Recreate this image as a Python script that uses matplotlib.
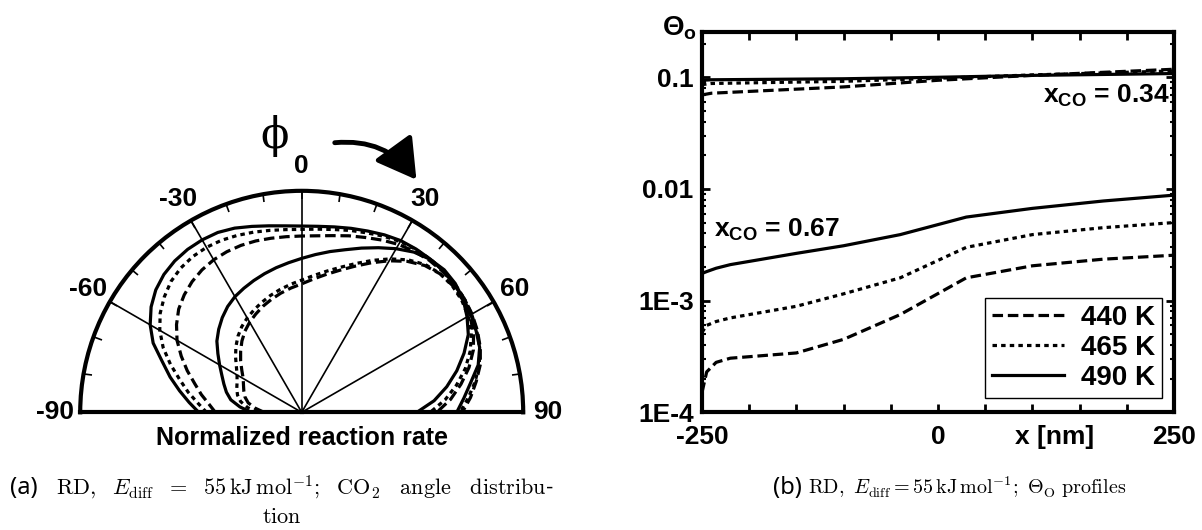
import numpy as np
import matplotlib
matplotlib.use("Agg")
import matplotlib.pyplot as plt
from matplotlib.patches import FancyArrowPatch
from matplotlib.ticker import FixedLocator, NullFormatter

plt.rcParams['font.family'] = ['Liberation Sans', 'DejaVu Sans']
plt.rcParams['font.weight'] = 'bold'
plt.rcParams['mathtext.fontset'] = 'custom'
plt.rcParams['mathtext.rm'] = 'Liberation Sans:bold'
plt.rcParams['mathtext.it'] = 'Liberation Sans:bold'
plt.rcParams['mathtext.bf'] = 'Liberation Sans:bold'

# ---- (a) CO2 angle distribution, phi in degrees (5 deg steps) ----
phi_deg = list(range(-90, 91, 5))
# wide lobes
r_wide_440 = [0.39, 0.42, 0.46, 0.50, 0.55, 0.60, 0.65, 0.69, 0.725, 0.75, 0.77, 0.785,
              0.795, 0.80, 0.802, 0.801, 0.798, 0.796, 0.796, 0.80, 0.81, 0.825, 0.84,
              0.858, 0.875, 0.887, 0.896, 0.90, 0.90, 0.896, 0.888, 0.875, 0.858, 0.835,
              0.80, 0.765, 0.725]
r_wide_465 = [0.43, 0.47, 0.52, 0.57, 0.63, 0.69, 0.74, 0.78, 0.81, 0.835, 0.85, 0.858,
              0.86, 0.857, 0.85, 0.842, 0.834, 0.828, 0.826, 0.83, 0.838, 0.85, 0.862,
              0.877, 0.89, 0.898, 0.903, 0.905, 0.902, 0.896, 0.886, 0.872, 0.855, 0.83,
              0.795, 0.755, 0.715]
r_wide_490 = [0.465, 0.51, 0.56, 0.615, 0.67, 0.74, 0.79, 0.83, 0.86, 0.88, 0.892, 0.898,
              0.899, 0.896, 0.885, 0.869, 0.855, 0.845, 0.841, 0.843, 0.85, 0.86, 0.871,
              0.884, 0.895, 0.90, 0.903, 0.903, 0.899, 0.892, 0.882, 0.869, 0.855, 0.825,
              0.775, 0.735, 0.70]
# tilted lobes
r_tilt_440 = [0.17, 0.21, 0.245, 0.265, 0.278, 0.29, 0.305, 0.33, 0.36, 0.39, 0.42, 0.447,
              0.47, 0.49, 0.51, 0.528, 0.546, 0.563, 0.58, 0.604, 0.632, 0.664, 0.702,
              0.745, 0.79, 0.832, 0.865, 0.884, 0.89, 0.887, 0.876, 0.856, 0.825, 0.782,
              0.73, 0.675, 0.61]
r_tilt_465 = [0.20, 0.245, 0.28, 0.30, 0.312, 0.322, 0.337, 0.36, 0.39, 0.42, 0.448, 0.472,
              0.492, 0.51, 0.528, 0.546, 0.563, 0.58, 0.597, 0.62, 0.647, 0.678, 0.715,
              0.757, 0.80, 0.84, 0.87, 0.885, 0.888, 0.882, 0.868, 0.845, 0.81, 0.765,
              0.71, 0.65, 0.58]
r_tilt_490 = [0.228, 0.28, 0.325, 0.352, 0.374, 0.398, 0.428, 0.462, 0.50, 0.53, 0.558, 0.583,
              0.603, 0.618, 0.633, 0.648, 0.663, 0.678, 0.695, 0.715, 0.737, 0.76, 0.789,
              0.82, 0.853, 0.883, 0.902, 0.91, 0.905, 0.89, 0.862, 0.83, 0.78, 0.725,
              0.665, 0.60, 0.52]
angle_ticks = [-90, -60, -30, 0, 30, 60, 90]

# ---- (b) Theta_O profiles ----
x_hi = [-250, -240, -100, 0, 100, 250]
th_hi_440 = [0.0695, 0.072, 0.082, 0.094, 0.104, 0.118]
th_hi_465 = [0.086, 0.088, 0.092, 0.098, 0.105, 0.114]
th_hi_490 = [0.094, 0.095, 0.097, 0.100, 0.104, 0.108]

x_lo = [-250, -245, -235, -220, -150, -100, -40, 30, 100, 175, 250]
th_lo_440 = [1.5e-4, 2.3e-4, 2.8e-4, 3.05e-4, 3.4e-4, 4.5e-4, 7.5e-4, 1.6e-3, 2.05e-3, 2.35e-3, 2.55e-3]
th_lo_465 = [5.2e-4, 6.0e-4, 6.5e-4, 7.0e-4, 8.9e-4, 1.15e-3, 1.6e-3, 3.0e-3, 3.9e-3, 4.5e-3, 5.0e-3]
th_lo_490 = [1.75e-3, 1.82e-3, 1.95e-3, 2.1e-3, 2.65e-3, 3.1e-3, 3.9e-3, 5.6e-3, 6.7e-3, 7.8e-3, 8.8e-3]
temps = ['440 K', '465 K', '490 K']

dashed = (0, (3.3, 1.5))
dotted = (0, (1.4, 1.3))
styles = [dashed, dotted, '-']

fig = plt.figure(figsize=(12.02, 5.30), dpi=100)

# polar panel
axp = fig.add_axes([0.0667, 0.0131, 0.3686, 0.8358], projection='polar')
axp.set_theta_zero_location('N')
axp.set_theta_direction(-1)
axp.set_thetamin(-90)
axp.set_thetamax(90)
axp.set_rlim(0, 1)
axp.set_yticks([])
axp.set_xticks(np.deg2rad(angle_ticks))
axp.set_xticklabels([str(a) for a in angle_ticks], fontsize=19)
axp.xaxis.set_minor_locator(FixedLocator(np.deg2rad(np.arange(-90, 91, 10))))
axp.tick_params(axis='x', which='both', bottom=False, top=True, direction='in',
                length=6, width=1.2, pad=11)
axp.xaxis.grid(True, color='black', lw=1.2)
for sp in axp.spines.values():
    sp.set_linewidth(3)

th = np.deg2rad(phi_deg)
for r, ls in zip([r_wide_440, r_wide_465, r_wide_490], styles):
    axp.plot(th, r, color='black', lw=2.3, linestyle=ls)
for r, ls in zip([r_tilt_440, r_tilt_465, r_tilt_490], styles):
    axp.plot(th, r, color='black', lw=2.3, linestyle=ls)

fig.text(301.7 / 1202, 1 - 426 / 530, 'Normalized reaction rate', fontsize=18,
         ha='center', va='top')
fig.text(275 / 1202, 1 - 136 / 530, '\u03d5', fontsize=30, ha='center',
         va='center', family='DejaVu Serif', weight='normal')
fig.add_artist(FancyArrowPatch(
    (332 / 1202, 1 - 143 / 530), (418 / 1202, 1 - 182 / 530),
    transform=fig.transFigure, connectionstyle='arc3,rad=-0.3',
    arrowstyle='-|>,head_length=1.2,head_width=0.7', mutation_scale=20,
    lw=3.5, color='black'))

# profile panel
ax = fig.add_axes([0.5840, 0.2221, 0.3927, 0.7181])
for y, ls, lab in zip([th_lo_440, th_lo_465, th_lo_490], styles, temps):
    ax.plot(x_lo, y, color='black', lw=2.3, linestyle=ls, label=lab)
for y, ls in zip([th_hi_440, th_hi_465, th_hi_490], styles):
    ax.plot(x_hi, y, color='black', lw=2.3, linestyle=ls)
ax.set_yscale('log')
ax.set_xlim(-250, 250)
ax.set_ylim(1e-4, 0.256)
xt = np.arange(-250, 251, 50)
ax.set_xticks(xt)
ax.set_xticklabels([str(v) if v in (-250, 0, 250) else '' for v in xt])
ax.set_yticks([1e-4, 1e-3, 1e-2, 1e-1])
ax.set_yticklabels(['1E-4', '1E-3', '0.01', '0.1'])
ax.yaxis.set_minor_formatter(NullFormatter())
ax.tick_params(axis='both', which='major', direction='in', top=True, right=True,
               length=6, width=2, labelsize=19)
ax.tick_params(axis='x', which='major', pad=9)
ax.tick_params(axis='y', which='major', pad=6)
ax.tick_params(axis='y', which='minor', direction='in', left=True, right=True,
               length=3, width=1.5)
for sp in ax.spines.values():
    sp.set_linewidth(3)
ax.text(0.746, -0.033, 'x [nm]', transform=ax.transAxes, ha='center', va='top',
        fontsize=19)
ax.text(245, 0.059, r'$\mathrm{x_{CO}}$ = 0.34', ha='right', va='baseline', fontsize=19)
ax.text(-237, 3.7e-3, r'$\mathrm{x_{CO}}$ = 0.67', ha='left', va='baseline', fontsize=19)
fig.text(662 / 1202, 1 - 35 / 530, r'$\Theta_{\mathrm{o}}$', fontsize=20, ha='left',
         va='baseline')
leg = ax.legend(loc='lower right', bbox_to_anchor=(0.9746, 0.0376), borderaxespad=0,
                fontsize=20, handlelength=2.6, handletextpad=0.6, labelspacing=0.15,
                borderpad=0.25, fancybox=False, framealpha=1, edgecolor='black')
leg.get_frame().set_linewidth(1)

# captions
fig.text(10 / 1202, 1 - 494 / 530, '(a)', fontsize=17, family='Noto Sans',
         weight='normal', va='baseline')
fig.text(56 / 1202, 1 - 494 / 530,
         r'$\mathrm{RD},\ \ E_{\mathrm{diff}}\ \ =\ \ 55\,\mathrm{kJ\,mol^{-1}};\ \ '
         r'\mathrm{CO_2\ \ \ angle\ \ \ distribu}$-',
         fontsize=16, math_fontfamily='cm', weight='normal', va='baseline')
fig.text(282 / 1202, 1 - 523 / 530, r'$\mathrm{tion}$', fontsize=16,
         math_fontfamily='cm', ha='center', va='baseline')
fig.text(773 / 1202, 1 - 494 / 530, '(b)', fontsize=17, family='Noto Sans',
         weight='normal', va='baseline')
fig.text(808 / 1202, 1 - 494 / 530,
         r'$\mathrm{RD},\ E_{\mathrm{diff}} = 55\,\mathrm{kJ\,mol^{-1}};\ '
         r'\Theta_{\mathrm{O}}\ \mathrm{profiles}$',
         fontsize=14.5, math_fontfamily='cm', va='baseline')

fig.savefig('out.png', dpi=100)
